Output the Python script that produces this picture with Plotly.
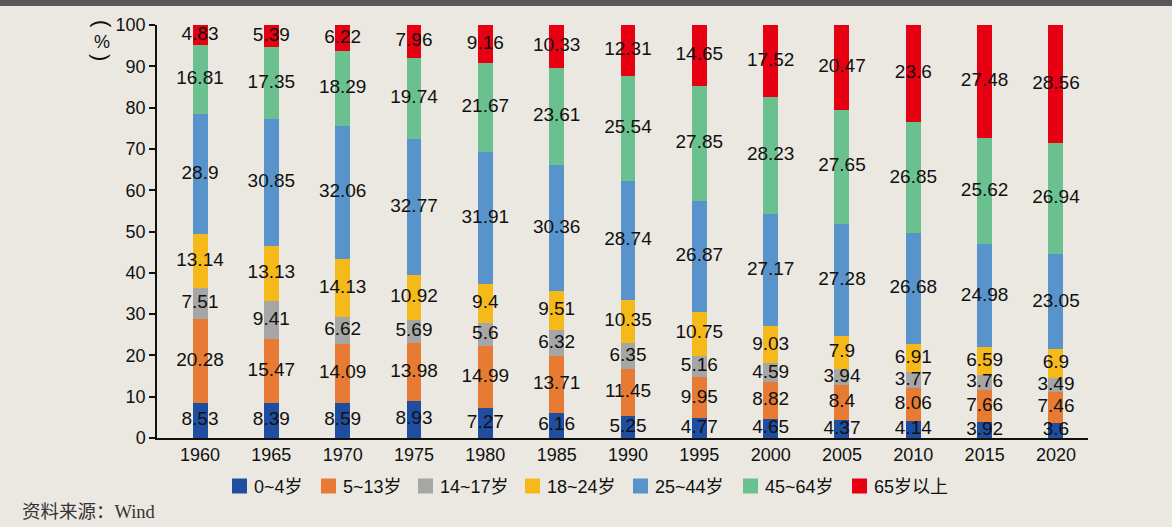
import plotly.graph_objects as go

# Share of population by age group (%), 1960-2020
years = ["1960", "1965", "1970", "1975", "1980", "1985", "1990",
         "1995", "2000", "2005", "2010", "2015", "2020"]

age_0_4 = [8.53, 8.39, 8.59, 8.93, 7.27, 6.16, 5.25, 4.77, 4.65, 4.37, 4.14, 3.92, 3.6]
age_5_13 = [20.28, 15.47, 14.09, 13.98, 14.99, 13.71, 11.45, 9.95, 8.82, 8.4, 8.06, 7.66, 7.46]
age_14_17 = [7.51, 9.41, 6.62, 5.69, 5.6, 6.32, 6.35, 5.16, 4.59, 3.94, 3.77, 3.76, 3.49]
age_18_24 = [13.14, 13.13, 14.13, 10.92, 9.4, 9.51, 10.35, 10.75, 9.03, 7.9, 6.91, 6.59, 6.9]
age_25_44 = [28.9, 30.85, 32.06, 32.77, 31.91, 30.36, 28.74, 26.87, 27.17, 27.28, 26.68, 24.98, 23.05]
age_45_64 = [16.81, 17.35, 18.29, 19.74, 21.67, 23.61, 25.54, 27.85, 28.23, 27.65, 26.85, 25.62, 26.94]
age_65_up = [4.83, 5.39, 6.22, 7.96, 9.16, 10.33, 12.31, 14.65, 17.52, 20.47, 23.6, 27.48, 28.56]

series_names = ["0~4岁", "5~13岁", "14~17岁", "18~24岁", "25~44岁", "45~64岁", "65岁以上"]
series_values = [age_0_4, age_5_13, age_14_17, age_18_24, age_25_44, age_45_64, age_65_up]
series_colors = ["#1f4ea1", "#e77b33", "#a6a6a6", "#f6b91a", "#5894cb", "#6ac08f", "#e60012"]

FONT = "Liberation Sans, Arial, Noto Sans CJK SC, sans-serif"
TEXT_COLOR = "#111111"

# plot area in pixels: x 157..1088, y 25..438
def px_y(py):
    return (438 - py) / 413

def px_x(px):
    return (px - 157) / 931

fig = go.Figure()

# stacked bars
base = [0.0] * len(years)
label_x, label_y, label_t = [], [], []
for name, vals, color in zip(series_names, series_values, series_colors):
    fig.add_trace(go.Bar(
        name=name, x=years, y=vals,
        marker=dict(color=color, line=dict(width=0)),
        width=0.21, showlegend=False, hoverinfo="x+y+name",
    ))
    for i, v in enumerate(vals):
        label_x.append(years[i])
        label_y.append(base[i] + v / 2)
        label_t.append(f"{v:g}")
        base[i] += v

# value labels centred on each segment
fig.add_trace(go.Scatter(
    x=label_x, y=label_y, text=label_t, mode="text",
    textposition="middle center",
    textfont=dict(family=FONT, size=19, color=TEXT_COLOR),
    showlegend=False, hoverinfo="skip", cliponaxis=False,
))

# legend row below the axis: square swatch + label
legend_left_px = [232, 321, 418, 525, 633, 743, 852]
legend_mid_px = 486
shapes = [dict(
    type="rect", xref="paper", yref="paper",
    x0=px_x(0), x1=px_x(1172), y0=px_y(6), y1=px_y(-2),
    fillcolor="#595757", line=dict(width=0), layer="above",
)]
annotations = []
for name, color, lx in zip(series_names, series_colors, legend_left_px):
    shapes.append(dict(
        type="rect", xref="paper", yref="paper",
        x0=px_x(lx), x1=px_x(lx + 15),
        y0=px_y(legend_mid_px + 7.5), y1=px_y(legend_mid_px - 7.5),
        fillcolor=color, line=dict(width=0),
    ))
    annotations.append(dict(
        text=name, xref="paper", yref="paper",
        x=px_x(lx + 20), y=px_y(legend_mid_px + 1),
        xanchor="left", yanchor="middle", showarrow=False,
        font=dict(family=FONT, size=18, color=TEXT_COLOR),
    ))

# unit label "(%)" written top-to-bottom
annotations += [
    dict(text="(", xref="paper", yref="paper", x=px_x(102), y=px_y(24),
         xanchor="center", yanchor="middle", showarrow=False, textangle=90,
         font=dict(family=FONT, size=22, color=TEXT_COLOR)),
    dict(text="%", xref="paper", yref="paper", x=px_x(102), y=px_y(42),
         xanchor="center", yanchor="middle", showarrow=False,
         font=dict(family=FONT, size=18, color=TEXT_COLOR)),
    dict(text=")", xref="paper", yref="paper", x=px_x(102), y=px_y(57),
         xanchor="center", yanchor="middle", showarrow=False, textangle=90,
         font=dict(family=FONT, size=22, color=TEXT_COLOR)),
    dict(text="资料来源：Wind", xref="paper", yref="paper",
         x=px_x(20), y=px_y(512), xanchor="left", yanchor="middle", showarrow=False,
         font=dict(family="Liberation Serif, Noto Sans CJK SC, serif", size=18.5, color="#333333")),
]

fig.update_layout(
    barmode="stack",
    width=1172, height=527,
    margin=dict(l=157, r=84, t=25, b=89),
    paper_bgcolor="#ebe8e1",
    plot_bgcolor="#ebe8e1",
    font=dict(family=FONT, size=18, color=TEXT_COLOR),
    showlegend=False,
    xaxis=dict(
        showline=True, linecolor="#111111", linewidth=1.5,
        ticks="", showgrid=False, tickfont=dict(size=18),
        range=[-0.603, 12.449],
    ),
    yaxis=dict(
        range=[0, 100], dtick=10, showline=True, linecolor="#111111", linewidth=1.5,
        ticks="outside", ticklen=6, tickwidth=1.5, tickcolor="#111111",
        showgrid=False, zeroline=False, tickfont=dict(size=18),
    ),
    shapes=shapes,
    annotations=annotations,
)

fig.write_html("out.html")
